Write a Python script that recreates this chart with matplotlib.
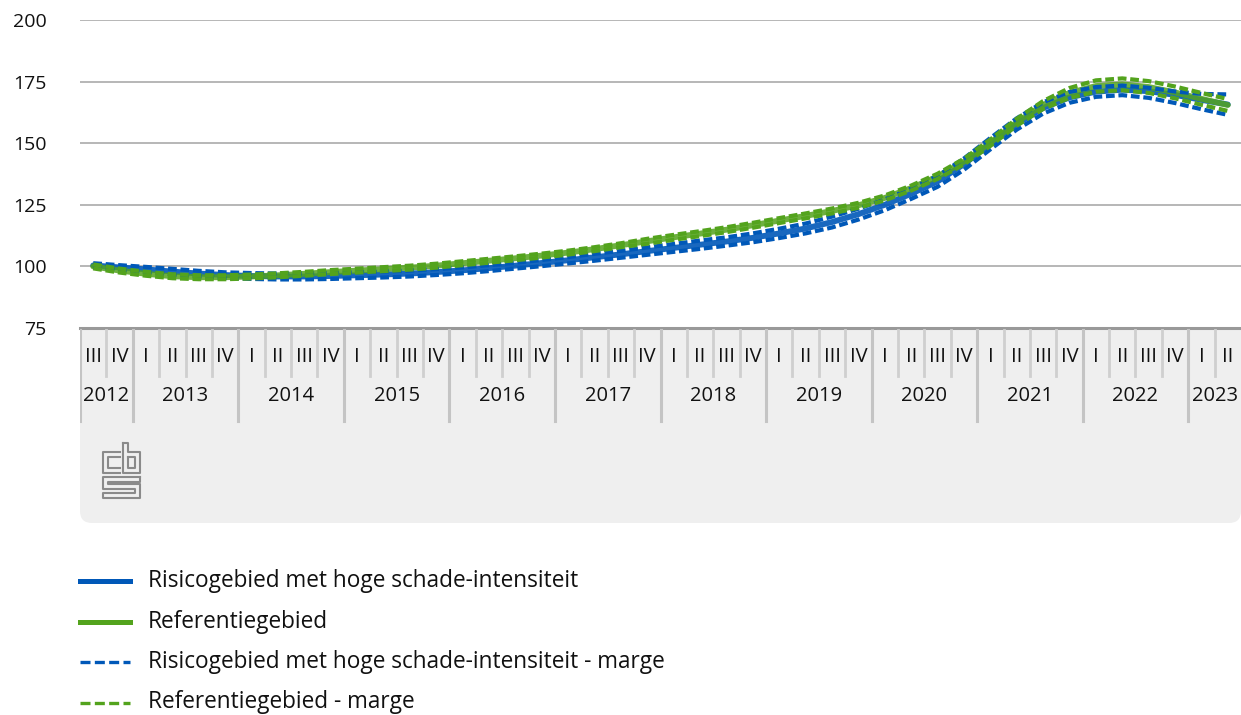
import numpy as np
import matplotlib
matplotlib.use("Agg")
import matplotlib.pyplot as plt
from matplotlib.patches import FancyBboxPatch, Rectangle
from matplotlib.lines import Line2D
from matplotlib.transforms import IdentityTransform

plt.rcParams['font.family'] = ['Open Sans', 'DejaVu Sans']

# kwartalen 2012 III t/m 2023 II
kwartalen = ['III', 'IV'] + ['I', 'II', 'III', 'IV'] * 10 + ['I', 'II']
jaren = ['2012', '2013', '2014', '2015', '2016', '2017', '2018', '2019', '2020', '2021', '2022', '2023']
kwartalen_per_jaar = [2, 4, 4, 4, 4, 4, 4, 4, 4, 4, 4, 2]

# Risicogebied met hoge schade-intensiteit
risico = [100.4, 99.6, 98.8, 97.9, 97.1, 96.5, 96.1, 95.9, 95.9, 96.1, 96.4, 96.7,
          97.1, 97.7, 98.4, 99.3, 100.3, 101.4, 102.5, 103.7, 104.9, 106.2, 107.5, 108.8,
          110.1, 111.6, 113.4, 115.4, 118.0, 121.2, 125.0, 129.5, 134.5, 141.5, 149.8, 157.8,
          164.3, 168.6, 170.9, 171.7, 171.1, 169.6, 167.6, 165.7]
risico_laag = [99.6, 98.7, 97.8, 96.8, 96.0, 95.3, 94.9, 94.7, 94.7, 94.9, 95.2, 95.5,
               95.9, 96.5, 97.2, 98.1, 99.1, 100.1, 101.2, 102.3, 103.5, 104.7, 105.9, 107.1,
               108.4, 109.8, 111.5, 113.4, 115.8, 119.0, 122.8, 127.4, 132.3, 139.2, 147.5, 155.5,
               162.0, 166.4, 168.8, 169.5, 168.4, 166.3, 163.8, 161.5]
risico_hoog = [101.3, 100.5, 99.8, 99.0, 98.2, 97.6, 97.3, 97.1, 97.1, 97.3, 97.6, 97.9,
               98.3, 98.9, 99.6, 100.5, 101.5, 102.6, 103.8, 105.1, 106.3, 107.7, 109.1, 110.5,
               111.8, 113.4, 115.3, 117.4, 120.2, 123.4, 127.2, 131.6, 136.7, 143.8, 152.1, 160.1,
               166.6, 170.8, 172.8, 173.4, 172.5, 171.0, 170.0, 169.8]

# Referentiegebied
referentie = [100.0, 98.3, 97.0, 96.0, 95.6, 95.6, 95.9, 96.4, 97.0, 97.7, 98.3, 98.9,
              99.5, 100.3, 101.3, 102.3, 103.3, 104.4, 105.6, 107.0, 108.6, 110.2, 111.8, 113.3,
              114.9, 116.7, 118.6, 120.5, 122.5, 124.8, 127.8, 131.8, 136.5, 142.5, 150.2, 158.5,
              165.5, 170.4, 173.2, 173.9, 172.8, 170.6, 168.0, 165.5]
referentie_laag = [99.2, 97.5, 96.2, 95.2, 94.8, 94.8, 95.1, 95.6, 96.2, 96.9, 97.5, 98.1,
                   98.7, 99.5, 100.5, 101.5, 102.5, 103.6, 104.8, 106.2, 107.8, 109.2, 110.8, 112.3,
                   113.9, 115.7, 117.6, 119.5, 121.5, 123.8, 126.8, 130.8, 135.5, 141.4, 148.9, 157.1,
                   163.9, 168.4, 170.9, 171.5, 170.4, 168.2, 165.6, 163.1]
referentie_hoog = [100.8, 99.1, 97.8, 96.8, 96.4, 96.4, 96.7, 97.2, 97.8, 98.5, 99.1, 99.7,
                   100.3, 101.1, 102.1, 103.1, 104.1, 105.2, 106.4, 107.8, 109.4, 111.2, 112.8, 114.3,
                   115.9, 117.7, 119.6, 121.5, 123.5, 125.8, 128.8, 132.8, 137.6, 143.7, 151.5, 159.9,
                   167.1, 172.4, 175.5, 176.3, 175.2, 173.0, 170.4, 167.9]

blauw = '#0058b8'
groen = '#53a31d'

W, H = 1241, 715
fig = plt.figure(figsize=(W / 100, H / 100), dpi=100)

ax = fig.add_axes([80 / W, 1 - 328 / H, 1161 / W, 308 / H])
x = np.arange(len(kwartalen))

streep = (0, (2.1, 0.9))
ax.plot(x, risico, color=blauw, lw=4.2, alpha=0.9, solid_capstyle='round', zorder=3)
ax.plot(x, referentie, color=groen, lw=4.2, alpha=0.85, solid_capstyle='round', zorder=4)
ax.plot(x, risico_laag, color=blauw, lw=3.0, ls=streep, zorder=5)
ax.plot(x, risico_hoog, color=blauw, lw=3.0, ls=streep, zorder=5)
ax.plot(x, referentie_laag, color=groen, lw=3.0, ls=streep, zorder=6)
ax.plot(x, referentie_hoog, color=groen, lw=3.0, ls=streep, zorder=6)

ax.set_xlim(-0.5, len(kwartalen) - 0.5)
ax.set_ylim(75, 200)
ax.set_yticks([75, 100, 125, 150, 175, 200])
ax.grid(axis='y', color='#aaaaaa', lw=1.2)
ax.set_axisbelow(True)
ax.tick_params(axis='y', length=0, pad=24, labelsize=14, labelcolor='#111111')
ax.set_xticks([])
for s in ['top', 'right', 'left']:
    ax.spines[s].set_visible(False)
ax.spines['bottom'].set_color('#999999')
ax.spines['bottom'].set_linewidth(2.2)
ax.spines['bottom'].set_zorder(10)

# grijs categorievlak onder de grafiek
vlak = FancyBboxPatch((80, H - 523), W - 80, 195, boxstyle='round,pad=0,rounding_size=12',
                      transform=IdentityTransform(), facecolor='#efefef', edgecolor='none', zorder=-2)
fig.add_artist(vlak)
fig.add_artist(Rectangle((80, H - 430), W - 80, 102, transform=IdentityTransform(),
                         facecolor='#efefef', edgecolor='none', zorder=-2))

ax2 = fig.add_axes([80 / W, 1 - 523 / H, 1161 / W, 195 / H])
ax2.set_xlim(-0.5, len(kwartalen) - 0.5)
ax2.set_ylim(523, 328)
ax2.axis('off')
for i, k in enumerate(kwartalen):
    ax2.text(i, 357, k, ha='center', va='center', fontsize=14.5, color='#111111')
    ax2.plot([i - 0.5, i - 0.5], [330, 376], color='#cfcfcf', lw=2)
grens = -0.5
for j, n in zip(jaren, kwartalen_per_jaar):
    ax2.plot([grens, grens], [330, 421], color='#c4c4c4', lw=2.2)
    ax2.text(grens + n / 2, 396, j, ha='center', va='center', fontsize=14.5, color='#111111')
    grens += n

# cbs logo (vereenvoudigd)
logo = [
    [(120, 452), (103, 452), (103, 473), (120, 473)],
    [(120, 457), (108, 457), (108, 468), (120, 468)],
    [(123, 443), (123, 473), (140, 473), (140, 452), (128, 452), (128, 443), (123, 443)],
    [(128, 457), (135, 457), (135, 468), (128, 468), (128, 457)],
    [(140, 477), (103, 477), (103, 489), (135, 489), (135, 493), (103, 493), (103, 498), (140, 498),
     (140, 484), (108, 484), (108, 482), (140, 482), (140, 477)],
]
for pad in logo:
    px = [p[0] for p in pad]
    py = [H - p[1] for p in pad]
    fig.add_artist(Line2D(px, py, transform=IdentityTransform(), color='#8a8a8a', lw=1.5))

# legenda
legenda = [
    ('Risicogebied met hoge schade-intensiteit', blauw, '-', 3.6),
    ('Referentiegebied', groen, '-', 3.6),
    ('Risicogebied met hoge schade-intensiteit - marge', blauw, (0, (3.0, 1.3)), 2.4),
    ('Referentiegebied - marge', groen, (0, (3.0, 1.3)), 2.4),
]
for r, (naam, kleur, stijl, dikte) in enumerate(legenda):
    y = 581 + r * 40.5
    fig.add_artist(Line2D([80 / W, 130 / W], [1 - y / H, 1 - y / H], transform=fig.transFigure,
                          color=kleur, ls=stijl, lw=dikte))
    fig.text(148 / W, 1 - y / H, naam, ha='left', va='center', fontsize=16.3, color='#111111')

fig.savefig('out.png', dpi=100)
